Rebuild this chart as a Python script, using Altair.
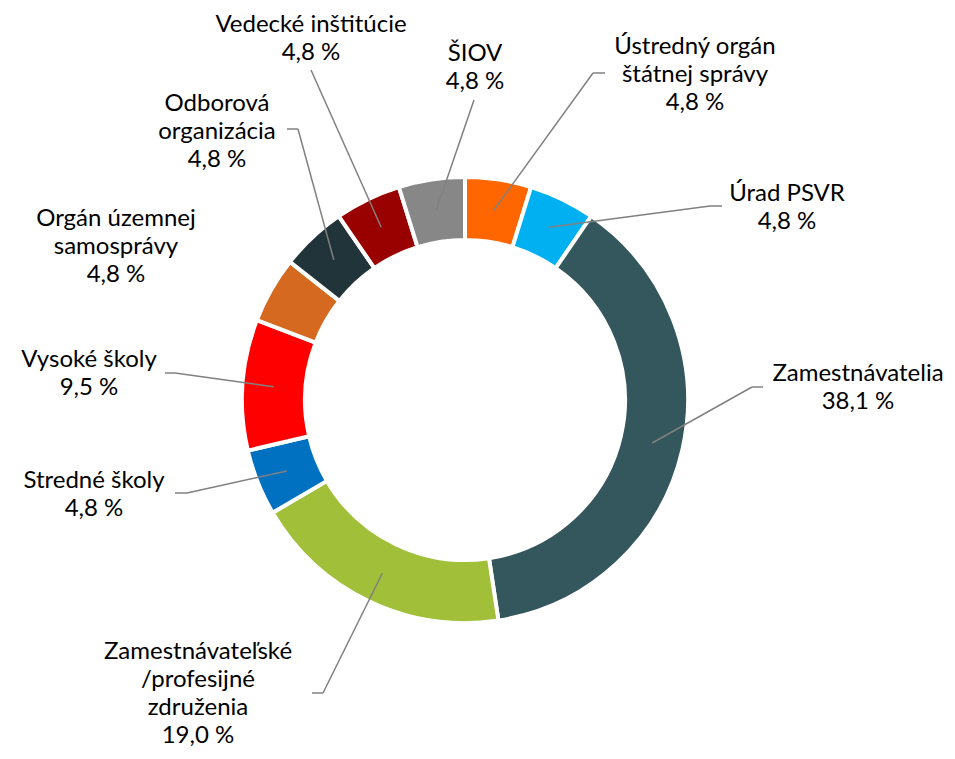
import altair as alt
import pandas as pd
import numpy as np

# ---- data (clockwise from 12 o'clock) ----
categories = [
    "Ústredný orgán štátnej správy",
    "Úrad PSVR",
    "Zamestnávatelia",
    "Zamestnávateľské/profesijné združenia",
    "Stredné školy",
    "Vysoké školy",
    "Orgán územnej samosprávy",
    "Odborová organizácia",
    "Vedecké inštitúcie",
    "ŠIOV",
]
values = [4.8, 4.8, 38.1, 19.0, 4.8, 9.5, 4.8, 4.8, 4.8, 4.8]
colors = ["#FF6600", "#00B0F0", "#33575C", "#A2BF39", "#0070C0",
          "#FF0000", "#D4691F", "#213439", "#990000", "#878787"]
label_names = [
    "Ústredný orgán\nštátnej správy",
    "Úrad PSVR",
    "Zamestnávatelia",
    "Zamestnávateľské\n/profesijné\nzdruženia",
    "Stredné školy",
    "Vysoké školy",
    "Orgán územnej\nsamosprávy",
    "Odborová\norganizácia",
    "Vedecké inštitúcie",
    "ŠIOV",
]

# ---- annotation layout: label block centres & leader ends, offsets from donut centre (px, y down) ----
label_dx = [230, 322, 393, -267, -371, -376, -349, -248, -154, 10]
label_dy = [-325, -192, -12, 294, 95, -26, -153, -268, -361, -332]
leader_dx = [140, 257, 298, -153, -290, -300, None, -178, -154, 9]
leader_dy = [-327, -194, -13, 293, 93, -27, None, -271, -330, -300]
leader_stub = [-12, -12, -11, 11, 12, 10, 0, 11, 0, 0]

W, H = 939, 743
CX, CY = 457, 392
R_OUT, R_IN, R_LEAD = 223, 160, 192
LINE_H = 28

total = sum(values)
cum = np.cumsum(values)
mid = (cum - np.array(values) / 2) / total * 2 * np.pi

labels = [n + "\n" + f"{v:.1f}".replace(".", ",") + " %" for n, v in zip(label_names, values)]
nlines = [lab.count("\n") + 1 for lab in labels]

df = pd.DataFrame({
    "idx": range(len(categories)),
    "cat": categories,
    "value": values,
    "label": labels,
    "lx": label_dx,
    "ly": [dy - (n - 1) * LINE_H / 2 for dy, n in zip(label_dy, nlines)],
})

segs = []
for i in range(len(categories)):
    if leader_dx[i] is None:
        continue
    sx = R_LEAD * np.sin(mid[i])
    sy = -R_LEAD * np.cos(mid[i])
    ex, ey = leader_dx[i], leader_dy[i]
    bx = ex + leader_stub[i]
    segs.append({"x": sx, "y": sy, "x2": bx, "y2": ey})
    if leader_stub[i] != 0:
        segs.append({"x": bx, "y": ey, "x2": ex, "y2": ey})
seg_df = pd.DataFrame(segs)

xs = alt.Scale(domain=[-CX, W - CX], range=[0, W], nice=False, zero=False)
ys = alt.Scale(domain=[-CY, H - CY], reverse=True, nice=False, zero=False)

arcs = alt.Chart(df).mark_arc(
    innerRadius=R_IN, outerRadius=R_OUT, stroke="white", strokeWidth=4
).encode(
    theta=alt.Theta("value:Q", stack=True),
    color=alt.Color("cat:N", scale=alt.Scale(domain=categories, range=colors), legend=None),
    order=alt.Order("idx:Q"),
    x=alt.value(CX),
    y=alt.value(CY),
)

rules = alt.Chart(seg_df).mark_rule(color="#808080", strokeWidth=1.5).encode(
    x=alt.X("x:Q", scale=xs, axis=None),
    y=alt.Y("y:Q", scale=ys, axis=None),
    x2="x2:Q",
    y2="y2:Q",
)

texts = alt.Chart(df).mark_text(
    font="Lato", fontSize=24, lineHeight=LINE_H, lineBreak="\n",
    align="center", baseline="middle", color="#000000"
).encode(
    x=alt.X("lx:Q", scale=xs, axis=None),
    y=alt.Y("ly:Q", scale=ys, axis=None),
    text="label:N",
)

chart = alt.layer(arcs, rules, texts).properties(
    width=W, height=H, padding=0, autosize="none", background="white"
).configure_view(stroke=None)

chart.save("out.html", embed_options={"renderer": "svg", "actions": False})
